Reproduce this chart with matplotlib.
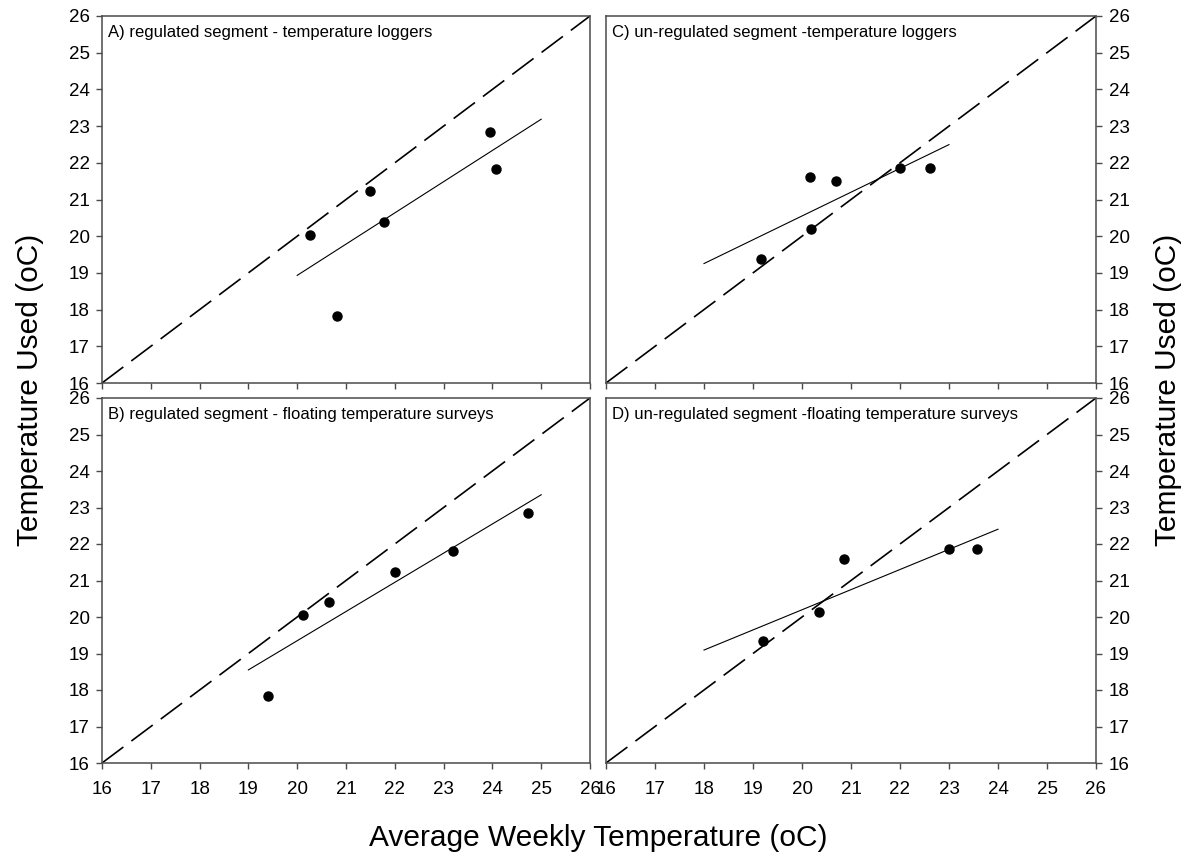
import numpy as np
import matplotlib
matplotlib.use("Agg")
import matplotlib.pyplot as plt

plt.rcParams['font.family'] = ['Liberation Sans', 'DejaVu Sans']

# Observed temperatures (oC)
reg_used = [20.02, 17.83, 21.22, 20.40, 22.85, 21.82]
reg_logger_avg = [20.27, 20.82, 21.49, 21.78, 23.95, 24.08]
reg_float_used = [17.83, 20.05, 20.40, 21.22, 21.82, 22.85]
reg_float_avg = [19.40, 20.12, 20.65, 22.00, 23.20, 24.72]

unreg_used = [19.38, 21.62, 20.19, 21.50, 21.87, 21.87]
unreg_logger_avg = [19.17, 20.16, 20.18, 20.69, 22.01, 22.61]
unreg_float_used = [19.35, 20.15, 21.60, 21.87, 21.87]
unreg_float_avg = [19.20, 20.35, 20.85, 23.00, 23.58]

fit_ranges = {"A": (20, 25), "B": (19, 25), "C": (18, 23), "D": (18, 24)}
titles = {
    "A": "A) regulated segment - temperature loggers",
    "B": "B) regulated segment - floating temperature surveys",
    "C": "C) un-regulated segment -temperature loggers",
    "D": "D) un-regulated segment -floating temperature surveys",
}
ticks = list(range(16, 27))

fig = plt.figure(figsize=(11.91, 8.56), dpi=100)
W, H = 1191, 856

def px_axes(x0, y0, x1, y1):
    return fig.add_axes([x0 / W, 1 - y1 / H, (x1 - x0) / W, (y1 - y0) / H])

axA = px_axes(102, 16, 590, 383)
axC = px_axes(606, 16, 1096, 383)
axB = px_axes(102, 398, 590, 763)
axD = px_axes(606, 398, 1096, 763)

panels = [
    ("A", axA, reg_logger_avg, reg_used, "left", False),
    ("C", axC, unreg_logger_avg, unreg_used, "right", False),
    ("B", axB, reg_float_avg, reg_float_used, "left", True),
    ("D", axD, unreg_float_avg, unreg_float_used, "right", True),
]

spine_col = "#4a4a4a"
for key, ax, xs, ys, side, xlabels in panels:
    ax.set_xlim(16, 26)
    ax.set_ylim(16, 26)
    # 1:1 reference line
    ax.plot([16, 26], [16, 26], color="black", lw=1.2, dashes=(16, 6))
    # least-squares fit
    slope, icpt = np.polyfit(xs, ys, 1)
    x0, x1 = fit_ranges[key]
    fx = np.array([x0, x1])
    ax.plot(fx, slope * fx + icpt, color="black", lw=0.8)
    ax.plot(xs, ys, "o", color="black", ms=6.5, mec="black")

    ax.set_xticks(ticks)
    ax.set_yticks(ticks)
    ax.tick_params(direction="out", length=4, width=1, color=spine_col,
                   labelsize=13.5, pad=5)
    if side == "right":
        ax.yaxis.tick_right()
        ax.tick_params(axis="y", left=False, right=True)
    if not xlabels:
        ax.tick_params(axis="x", labelbottom=False)
    else:
        ax.tick_params(axis="x", pad=9)
    for sp in ax.spines.values():
        sp.set_color(spine_col)
        sp.set_linewidth(1.1)
    ax.text(0.012, 0.975, titles[key], transform=ax.transAxes,
            ha="left", va="top", fontsize=12)

fig.text(30 / W, 1 - 390 / H, "Temperature Used (oC)", rotation=90,
         ha="center", va="center", fontsize=21.5)
fig.text(1168 / W, 1 - 390 / H, "Temperature Used (oC)", rotation=90,
         ha="center", va="center", fontsize=21.5)
fig.text(598 / W, 1 - 838 / H, "Average Weekly Temperature (oC)",
         ha="center", va="center", fontsize=21.5)

fig.savefig("out.png", dpi=100)
